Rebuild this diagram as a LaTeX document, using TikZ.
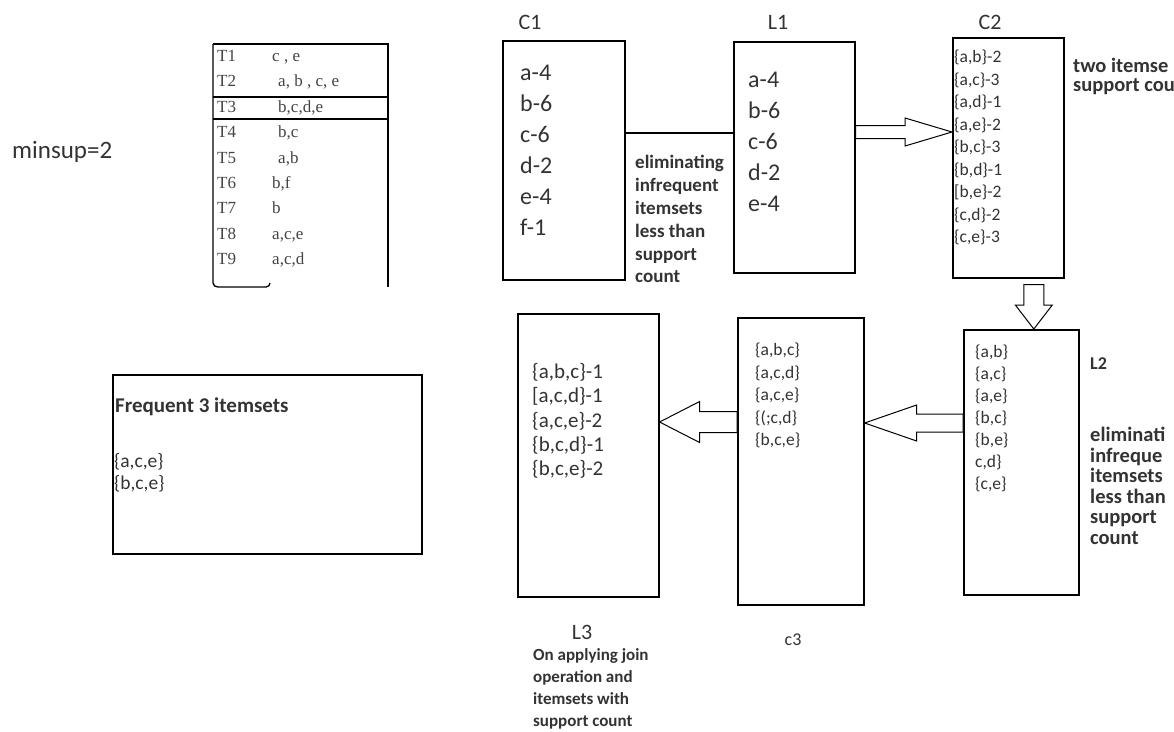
\documentclass[tikz,border=0pt]{standalone}
\usepackage{fontspec}
\usetikzlibrary{calc}
\newfontfamily\calib{Carlito}
\newfontfamily\timesf{Liberation Serif}
\definecolor{ink}{HTML}{333333}
\definecolor{tblink}{HTML}{444444}
\tikzset{
  frame/.style={draw=black, line width=1.6pt, inner sep=0pt, anchor=north west},
  lbl/.style={font=\calib\fontsize{22}{26}\selectfont, text=ink, inner sep=0pt, anchor=base},
  bigitem/.style={font=\calib\fontsize{24}{31}\selectfont, text=ink, inner sep=0pt, anchor=base west},
  smallitem/.style={font=\calib\fontsize{17.5}{22}\selectfont, text=ink, inner sep=0pt, anchor=base west},
  miditem/.style={font=\calib\fontsize{21}{24}\selectfont, text=ink, inner sep=0pt, anchor=base west},
  note/.style={font=\calib\bfseries\fontsize{19}{22}\selectfont, text=ink, inner sep=0pt, anchor=base west},
  sidenote/.style={font=\calib\bfseries\fontsize{20.5}{22}\selectfont, text=ink, inner sep=0pt, anchor=base west},
  tbl/.style={font=\timesf\fontsize{17}{20}\selectfont, text=tblink, inner sep=0pt, anchor=base west},
  barrow/.style={draw=black, line width=1pt, fill=white, line join=miter},
  rule/.style={draw=black, line width=1.3pt},
}
% block arrow: name, start, tip, shaft half-width, head half-width, head length
\newcommand\blockarr[6]{%
  \coordinate (#1-b) at ($(#3)!#6!(#2)$);
  \draw[barrow] ($(#2)!#4!90:(#3)$) -- ($(#1-b)!#4!90:(#3)$) -- ($(#1-b)!#5!90:(#3)$) -- (#3)
    -- ($(#1-b)!#5!-90:(#3)$) -- ($(#1-b)!#4!-90:(#3)$) -- ($(#2)!#4!-90:(#3)$) -- cycle;
}
\begin{document}
\begin{tikzpicture}[x=1pt,y=-1pt]
\useasboundingbox[fill=white] (0,0) rectangle (1174,731);

% minimum support
\node[bigitem, font=\calib\fontsize{25}{30}\selectfont] (minsup) at (12,158) {minsup=2};

% transaction table
\draw[rule] (213,44) -- (388,44) -- (388,287);
\draw[rule] (213,44) -- (213,283) to[out=-90,in=180] (218,287) -- (266,287) to[out=0,in=-90] (270,283);
\draw[rule] (213,97) -- (388,97);
\draw[rule] (213,119) -- (388,119);
\foreach \t/\v/\dx [count=\i] in {T1/{c , e}/0, T2/{a, b , c, e}/6, T3/{b,c,d,e}/6, T4/{b,c}/6, T5/{a,b}/6,
    T6/{b,f}/0, T7/b/0, T8/{a,c,e}/0, T9/{a,c,d}/0}{
  \node[tbl] (tid\i) at (217, {36+25.4*\i}) {\t};
  \node[tbl] (tset\i) at ({272+\dx}, {36+25.4*\i}) {\v};
}

% C1
\node[frame, minimum width=122, minimum height=239] (C1) at (502,40) {};
\node[lbl] (C1lbl) at (530,29) {C1};
\foreach \t [count=\i] in {a-4,b-6,c-6,d-2,e-4,f-1}
  \node[bigitem] (c1i\i) at (520, {49+31*\i}) {\t};

% L1
\node[frame, minimum width=121, minimum height=231] (L1) at (733,41) {};
\node[lbl] (L1lbl) at (778,29) {L1};
\foreach \t [count=\i] in {a-4,b-6,c-6,d-2,e-4}
  \node[bigitem] (l1i\i) at (748, {56+31*\i}) {\t};

% C1 to L1
\draw[line width=2.6pt] (C1.east |- 0,133) -- (L1.west |- 0,133);
\foreach \t [count=\i] in {eliminating,infrequent,itemsets,less than,support,count}
  \node[note] (n1-\i) at (635, {146+22.8*\i}) {\t};

% C2
\node[frame, minimum width=111, minimum height=240] (C2) at (952,37) {};
\node[lbl] (C2lbl) at (990,29) {C2};
\foreach \t [count=\i] in {{\{a,b\}-2},{\{a,c\}-3},{\{a,d\}-1},{\{a,e\}-2},{\{b,c\}-3},
    {\{b,d\}-1},{[b,e\}-2},{\{c,d\}-2},{\{c,e\}-3}}
  \node[smallitem] (c2i\i) at (954, {40+22.5*\i}) {\t};
\node[sidenote] (n2-1) at (1073,72) {two itemse};
\node[sidenote] (n2-2) at (1073,91) {support cou};

% L1 to C2
\coordinate (a1s) at (L1.east |- 0,132);
\coordinate (a1t) at (C2.west |- a1s);
\blockarr{arrA}{a1s}{a1t}{6.5pt}{14pt}{47pt}

% L2
\node[frame, minimum width=115, minimum height=265] (L2) at (963,329) {};
\foreach \t [count=\i] in {{\{a,b\}},{\{a,c\}},{\{a,e\}},{\{b,c\}},{\{b,e\}},{c,d\}},{\{c,e\}}}
  \node[smallitem] (l2i\i) at (975, {335.5+22*\i}) {\t};
\node[sidenote, font=\calib\bfseries\fontsize{18}{22}\selectfont] (L2lbl) at (1090,369) {L2};
\foreach \t [count=\i] in {eliminati,infreque,itemsets,less than,support,count}
  \node[sidenote] (n3-\i) at (1090, {421+20.5*\i}) {\t};

% C2 to L2
\coordinate (a2s) at ($(C2.south)+(25.5,6)$);
\coordinate (a2t) at (a2s |- L2.north);
\blockarr{arrB}{a2s}{a2t}{10pt}{18.5pt}{24pt}

% c3
\node[frame, minimum width=126, minimum height=287] (c3) at (737,317) {};
\foreach \t [count=\i] in {{\{a,b,c\}},{\{a,c,d\}},{\{a,c,e\}},{\{(;c,d\}},{\{b,c,e\}}}
  \node[smallitem] (c3i\i) at (755, {333+22.5*\i}) {\t};
\node[lbl, font=\calib\fontsize{18}{22}\selectfont] (c3lbl) at (793,645) {c3};

% L2 to c3
\coordinate (a3s) at (L2.west |- 0,423);
\coordinate (a3t) at (c3.east |- a3s);
\blockarr{arrC}{a3s}{a3t}{9pt}{18pt}{52pt}

% L3
\node[frame, minimum width=141, minimum height=283] (L3) at (517,313) {};
\foreach \t [count=\i] in {{\{a,b,c\}-1},{[a,c,d\}-1},{\{a,c,e\}-2},{\{b,c,d\}-1},{\{b,c,e\}-2}}
  \node[miditem] (l3i\i) at (532, {354.2+24.3*\i}) {\t};
\node[lbl] (L3lbl) at (582,639) {L3};
\foreach \t [count=\i] in {On applying join,operation and,itemsets with,support count}
  \node[note, font=\calib\bfseries\fontsize{17}{21}\selectfont] (n4-\i) at (533, {638+22*\i}) {\t};

% c3 to L3
\coordinate (a4s) at (c3.west |- 0,422);
\coordinate (a4t) at (L3.east |- a4s);
\blockarr{arrD}{a4s}{a4t}{10.5pt}{20.5pt}{40pt}

% result
\node[frame, minimum width=309, minimum height=179] (F3) at (112,374) {};
\node[note, font=\calib\bfseries\fontsize{21}{25}\selectfont] (F3t) at (115,412) {Frequent 3 itemsets};
\node[smallitem, font=\calib\fontsize{19.5}{22}\selectfont] (F3a) at (114,467) {\{a,c,e\}};
\node[smallitem, font=\calib\fontsize{19.5}{22}\selectfont] (F3b) at (114,489) {\{b,c,e\}};
\end{tikzpicture}
\end{document}
